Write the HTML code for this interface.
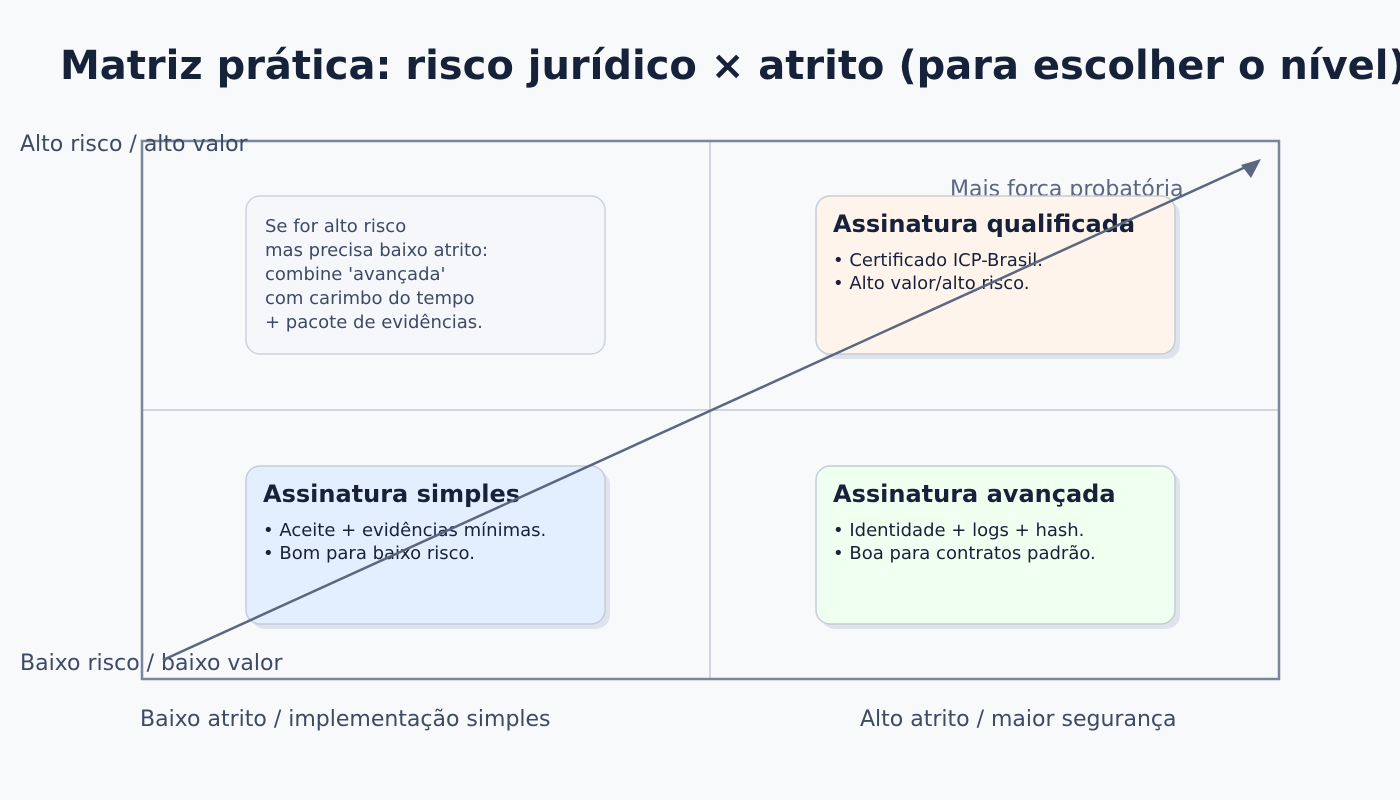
<!DOCTYPE html>
<html><head><meta charset="utf-8"><style>
html,body{margin:0;padding:0;background:#f7f9fb;}
svg{display:block;font-family:"DejaVu Sans","Liberation Sans",sans-serif;}
</style></head><body>
<svg width="1400" height="800" viewBox="0 0 1400 800" xmlns="http://www.w3.org/2000/svg">
<rect width="1400" height="800" fill="#f7f9fb"/>
<text x="60" y="79" font-size="40" font-weight="bold" fill="#16213a">Matriz prática: risco jurídico × atrito (para escolher o nível)</text>
<line x1="710" y1="141" x2="710" y2="679" stroke="#c3c9d6" stroke-width="1.5"/>
<line x1="142" y1="410" x2="1279" y2="410" stroke="#c3c9d6" stroke-width="1.5"/>
<rect x="142" y="141" width="1137" height="538" fill="none" stroke="#7a869a" stroke-width="2.5"/>
<text x="20" y="151" font-size="22" fill="#3d4a66">Alto risco / alto valor</text>
<text x="20" y="670" font-size="22" fill="#3d4a66">Baixo risco / baixo valor</text>
<text x="140" y="726" font-size="22" fill="#3d4a66">Baixo atrito / implementação simples</text>
<text x="860" y="726" font-size="22" fill="#3d4a66">Alto atrito / maior segurança</text>
<text x="950" y="196" font-size="22" fill="#5b6680">Mais força probatória</text>
<rect x="246" y="196" width="359" height="158" rx="14" fill="#f5f7fa" stroke="#cdd3dd" stroke-width="1.5"/>
<g font-size="18" fill="#3d4a66">
<text x="265" y="232">Se for alto risco</text>
<text x="265" y="256">mas precisa baixo atrito:</text>
<text x="265" y="280">combine 'avançada'</text>
<text x="265" y="304">com carimbo do tempo</text>
<text x="265" y="328">+ pacote de evidências.</text>
</g>
<rect x="821" y="201" width="359" height="158" rx="14" fill="#dfe3eb"/>
<rect x="816" y="196" width="359" height="158" rx="14" fill="#fff4eb" stroke="#c5ccd8" stroke-width="1.5"/>
<text x="833" y="232" font-size="24" font-weight="bold" fill="#16213a">Assinatura qualificada</text>
<text x="833" y="266" font-size="18" fill="#16213a">• Certificado ICP-Brasil.</text>
<text x="833" y="289" font-size="18" fill="#16213a">• Alto valor/alto risco.</text>
<rect x="251" y="471" width="359" height="158" rx="14" fill="#dfe3eb"/>
<rect x="246" y="466" width="359" height="158" rx="14" fill="#e3efff" stroke="#c5ccd8" stroke-width="1.5"/>
<text x="263" y="502" font-size="24" font-weight="bold" fill="#16213a">Assinatura simples</text>
<text x="263" y="536" font-size="18" fill="#16213a">• Aceite + evidências mínimas.</text>
<text x="263" y="559" font-size="18" fill="#16213a">• Bom para baixo risco.</text>
<rect x="821" y="471" width="359" height="158" rx="14" fill="#dfe3eb"/>
<rect x="816" y="466" width="359" height="158" rx="14" fill="#effff0" stroke="#c5ccd8" stroke-width="1.5"/>
<text x="833" y="502" font-size="24" font-weight="bold" fill="#16213a">Assinatura avançada</text>
<text x="833" y="536" font-size="18" fill="#16213a">• Identidade + logs + hash.</text>
<text x="833" y="559" font-size="18" fill="#16213a">• Boa para contratos padrão.</text>
<line x1="163" y1="660" x2="1250" y2="165" stroke="#5b6680" stroke-width="2.5"/>
<polygon points="1261,159 1241,165 1251,178" fill="#5b6680"/>
</svg>
</body></html>
